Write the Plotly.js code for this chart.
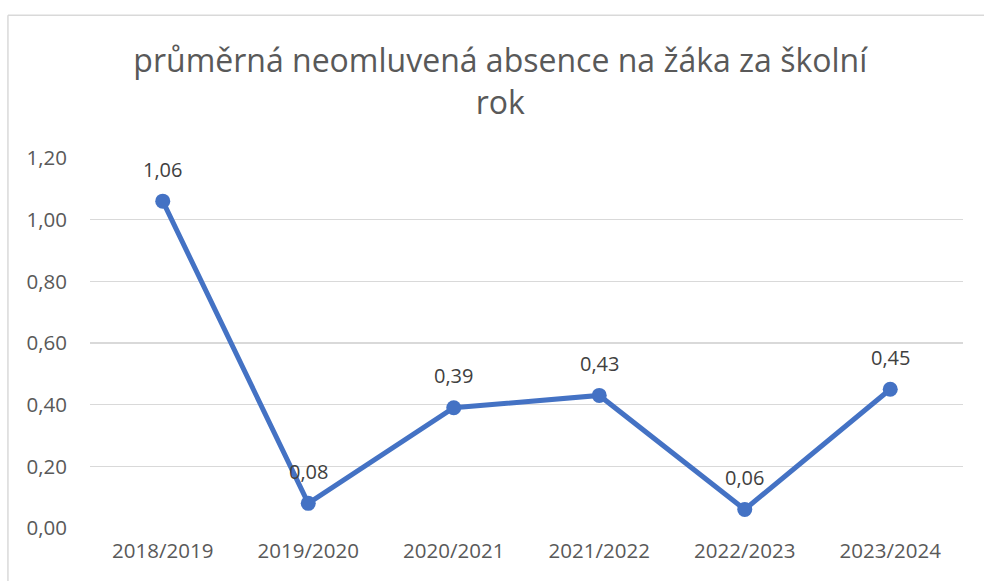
<!DOCTYPE html>
<html>
<head>
<meta charset="utf-8">
<script src="https://cdn.plot.ly/plotly-3.0.1.min.js"></script>
<style>
  html, body { margin: 0; padding: 0; background: #fff; }
  #chart { width: 984px; height: 581px; }
</style>
</head>
<body>
<div id="chart"></div>
<script>
  // školní roky a průměrná neomluvená absence
  const years = ["2018/2019", "2019/2020", "2020/2021", "2021/2022", "2022/2023", "2023/2024"];
  const absence = [1.06, 0.08, 0.39, 0.43, 0.06, 0.45];
  const yTicks = [0, 0.2, 0.4, 0.6, 0.8, 1.0, 1.2];
  const yTickText = ["0,00", "0,20", "0,40", "0,60", "0,80", "1,00", "1,20"];

  const BLUE = "#4472C4", GREY_TXT = "#595959", GRID = "#D9D9D9";
  const FONT = "Open Sans, sans-serif";

  const fmt = (v) => v.toFixed(2).replace(".", ",");

  const trace = {
    x: years,
    y: absence,
    type: "scatter",
    mode: "lines+markers",
    line: { color: BLUE, width: 5 },
    marker: { color: BLUE, size: 15 },
    hoverinfo: "skip",
  };

  const labels = years.map((yr, i) => ({
    x: yr, y: absence[i], text: fmt(absence[i]),
    showarrow: false, yshift: 32,
    font: { family: FONT, size: 20, color: "#404040" },
  }));

  const layout = {
    width: 984, height: 581,
    margin: { l: 90, r: 21, t: 158, b: 53 },
    paper_bgcolor: "#fff", plot_bgcolor: "#fff",
    showlegend: false,
    title: {
      text: "průměrná neomluvená absence na žáka za školní<br>rok",
      font: { family: FONT, size: 32, color: GREY_TXT },
      xref: "paper", x: 0.47, xanchor: "center",
      yref: "container", y: 0.876, yanchor: "middle",
    },
    xaxis: {
      type: "category",
      range: [-0.5, 5.5],
      showgrid: false, zeroline: false, showline: false,
      ticks: "",
      ticklabelstandoff: 8,
      tickfont: { family: FONT, size: 20.5, color: GREY_TXT },
    },
    yaxis: {
      range: [0, 1.2],
      tickvals: yTicks, ticktext: yTickText,
      gridcolor: GRID, gridwidth: 1.5,
      zeroline: false, showline: false, ticks: "",
      ticklabelstandoff: 22,
      tickfont: { family: FONT, size: 20.5, color: GREY_TXT },
    },
    annotations: labels,
    shapes: [
      { type: "line", xref: "paper", yref: "paper", x0: -0.094, x1: 1.1, y0: 1.386, y1: 1.386,
        line: { color: GRID, width: 1.5 } },
      { type: "line", xref: "paper", yref: "paper", x0: -0.094, x1: -0.094, y0: -0.2, y1: 1.386,
        line: { color: GRID, width: 1.5 } },
    ],
  };

  Plotly.newPlot("chart", [trace], layout, { displayModeBar: false, staticPlot: true });
</script>
</body>
</html>
